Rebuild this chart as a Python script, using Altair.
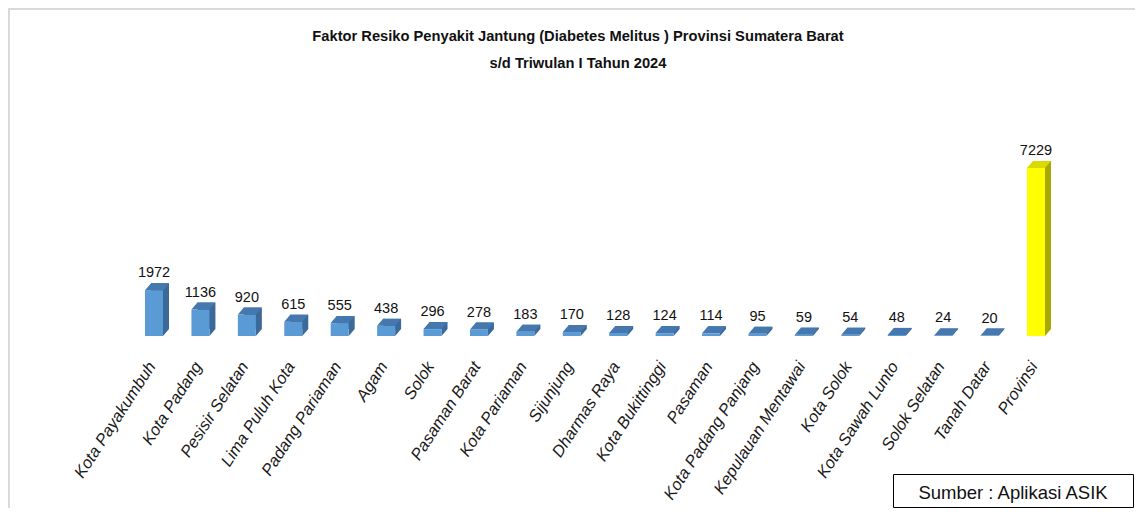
import altair as alt
import pandas as pd

# ---- data ----
wilayah = ["Kota Payakumbuh", "Kota Padang", "Pesisir Selatan", "Lima Puluh Kota",
           "Padang Pariaman", "Agam", "Solok", "Pasaman Barat", "Kota Pariaman",
           "Sijunjung", "Dharmas Raya", "Kota Bukittinggi", "Pasaman",
           "Kota Padang Panjang", "Kepulauan Mentawai", "Kota Solok",
           "Kota Sawah Lunto", "Solok Selatan", "Tanah Datar", "Provinsi"]
kasus = [1972, 1136, 920, 615, 555, 438, 296, 278, 183, 170, 128, 124, 114,
         95, 59, 54, 48, 24, 20, 7229]
title_line1 = "Faktor Resiko Penyakit Jantung (Diabetes Melitus ) Provinsi Sumatera Barat"
title_line2 = "s/d Triwulan I Tahun 2024"
sumber = "Sumber : Aplikasi ASIK"

df = pd.DataFrame({"Wilayah": wilayah, "Kasus": kasus})

W, H = 1127, 328
SANS = "Liberation Sans, Arial, sans-serif"

is_prov = alt.datum.Wilayah == "Provinsi"
front_fill = alt.condition(is_prov, alt.value("#FFFF00"), alt.value("#5B9BD5"))
top_fill = alt.condition(is_prov, alt.value("#D9D900"), alt.value("#4478AE"))
side_fill = alt.condition(is_prov, alt.value("#A8A800"), alt.value("#3B6A9A"))

x_enc = alt.X("Wilayah:N", sort=wilayah,
              scale=alt.Scale(paddingInner=0, paddingOuter=0, range=[122.8, 1051.2]),
              axis=alt.Axis(title=None, labelAngle=-57, labelAlign="right",
                            labelBaseline="middle", labelPadding=27, labelOffset=-2,
                            ticks=False, domain=False, grid=False, labelFont=SANS,
                            labelFontStyle="italic", labelFontSize=16.5,
                            labelColor="#1a1a1a", labelOverlap=False, labelLimit=0))
y_scale = alt.Scale(domain=[0, 14114], nice=False, zero=True)
y_enc = alt.Y("Kasus:Q", scale=y_scale, axis=None)

base = alt.Chart(df).encode(x=x_enc)

back = base.mark_bar(width=18, xOffset=6, yOffset=-7, y2Offset=-7).encode(
    y=y_enc, fill=side_fill)
tri = base.mark_point(shape="M 9 0 L 9 -7 L 15 -7 Z", size=4, filled=True,
                      opacity=1, strokeWidth=0).encode(
    y=alt.Y(datum=0, scale=y_scale, axis=None), fill=side_fill)
front = base.mark_bar(width=18).encode(y=y_enc, fill=front_fill)
top = base.mark_point(shape="M -9 0 L 9 0 L 15 -7 L -3 -7 Z", size=4, filled=True,
                      opacity=1, strokeWidth=0).encode(y=y_enc, fill=top_fill)
vals = base.mark_text(font=SANS, fontSize=14.5, dy=-13, baseline="alphabetic",
                      color="#111").encode(y=y_enc, text=alt.Text("Kasus:Q", format="d"))

t1 = alt.Chart(pd.DataFrame({"t": [title_line1]})).mark_text(
    font=SANS, fontSize=14.7, fontWeight="bold", color="#111", baseline="middle").encode(
    x=alt.value(570), y=alt.value(29), text="t:N")
t2 = alt.Chart(pd.DataFrame({"t": [title_line2]})).mark_text(
    font=SANS, fontSize=14.7, fontWeight="bold", color="#111", baseline="middle").encode(
    x=alt.value(570), y=alt.value(56), text="t:N")

frame = pd.DataFrame({"k": ["frame"]})
border_top = alt.Chart(frame).mark_rect(fill="#D9D9D9", strokeWidth=0).encode(
    x=alt.value(0), x2=alt.value(W), y=alt.value(0), y2=alt.value(2))
border_left = alt.Chart(frame).mark_rect(fill="#D9D9D9", strokeWidth=0).encode(
    x=alt.value(0), x2=alt.value(2), y=alt.value(0), y2=alt.value(500))

sdf = pd.DataFrame({"s": [sumber]})
box = alt.Chart(sdf).mark_rect(fill="white", stroke="black", strokeWidth=1).encode(
    x=alt.value(885.5), x2=alt.value(1125.5), y=alt.value(466.5), y2=alt.value(499.5))
box_text = alt.Chart(sdf).mark_text(font=SANS, fontSize=18.5, color="#111",
                                    baseline="middle").encode(
    x=alt.value(1005), y=alt.value(485), text="s:N")

chart = alt.layer(border_top, border_left, back, tri, front, top, vals, t1, t2,
                  box, box_text).properties(
    width=W, height=H,
    padding={"left": 0, "top": 0, "right": 0, "bottom": 172},
    autosize=alt.AutoSizeParams(type="none"),
    background="white",
).configure_view(strokeWidth=0)

chart.save("out.html", embed_options={"renderer": "svg", "actions": False})
